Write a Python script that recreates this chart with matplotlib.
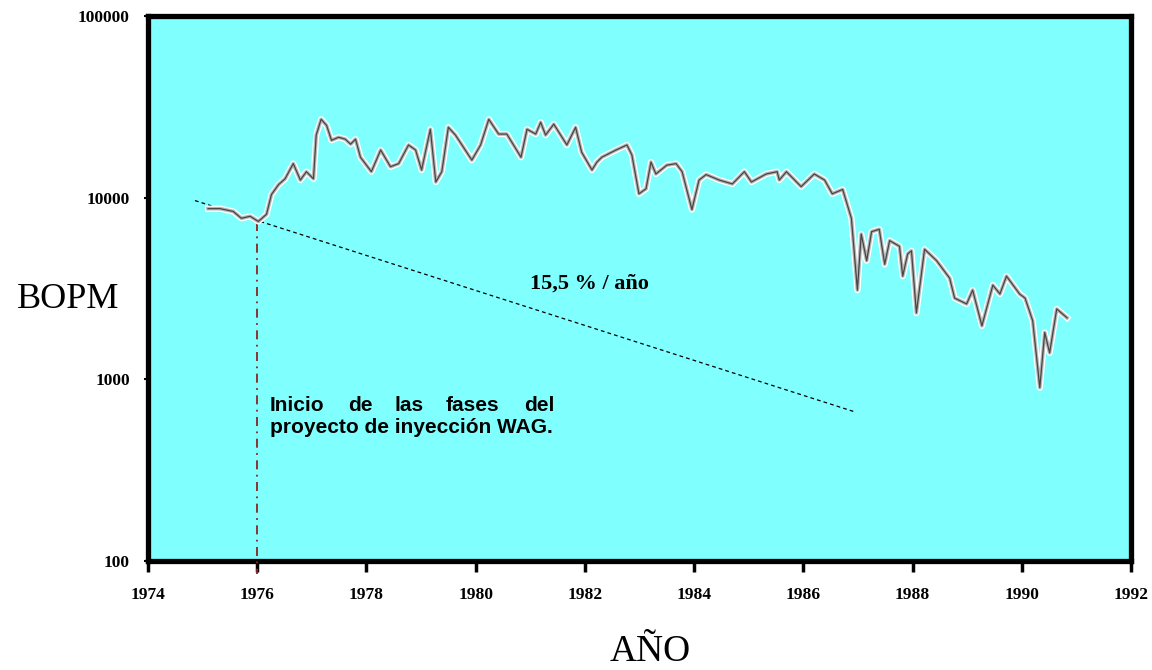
import matplotlib
matplotlib.use("Agg")
import matplotlib.pyplot as plt
from matplotlib.ticker import FixedLocator, NullLocator, FixedFormatter

# ---- data ----
years = [1975.10, 1975.32, 1975.56, 1975.71, 1975.87, 1976.02, 1976.17, 1976.26,
         1976.39, 1976.51, 1976.66, 1976.79, 1976.90, 1977.03, 1977.08, 1977.17,
         1977.27, 1977.36, 1977.49, 1977.61, 1977.71, 1977.80, 1977.89, 1978.09,
         1978.26, 1978.44, 1978.59, 1978.77, 1978.90, 1979.01, 1979.17, 1979.27,
         1979.38, 1979.50, 1979.63, 1979.93, 1980.09, 1980.24, 1980.42, 1980.57,
         1980.83, 1980.94, 1981.10, 1981.19, 1981.28, 1981.43, 1981.67, 1981.83,
         1981.94, 1982.13, 1982.22, 1982.31, 1982.57, 1982.77, 1982.86, 1982.99,
         1983.12, 1983.21, 1983.30, 1983.50, 1983.67, 1983.78, 1983.96, 1984.09,
         1984.22, 1984.46, 1984.70, 1984.92, 1985.05, 1985.32, 1985.52, 1985.56,
         1985.69, 1985.96, 1986.20, 1986.39, 1986.53, 1986.72, 1986.88, 1986.99,
         1987.06, 1987.16, 1987.25, 1987.39, 1987.49, 1987.58, 1987.76, 1987.82,
         1987.91, 1987.98, 1988.07, 1988.22, 1988.44, 1988.68, 1988.77, 1988.99,
         1989.10, 1989.27, 1989.47, 1989.60, 1989.72, 1989.96, 1990.06, 1990.20,
         1990.33, 1990.42, 1990.51, 1990.64, 1990.83]
bopm = [8700, 8700, 8400, 7700, 7900, 7400, 8100, 10400,
        11800, 12700, 15400, 12500, 13900, 12700, 22100, 27000,
        25000, 20700, 21500, 21000, 19700, 21000, 16700, 13900,
        18300, 14800, 15400, 19500, 18300, 14200, 23800, 12200,
        13900, 24400, 22100, 16100, 19500, 27000, 22400, 22400,
        16700, 23800, 22400, 26000, 22100, 25400, 19500, 24400,
        17800, 14200, 15700, 16700, 18300, 19500, 17200, 10500,
        11200, 15700, 13500, 15100, 15400, 13900, 8600, 12500,
        13400, 12500, 11900, 13900, 12200, 13500, 13900, 12500,
        13900, 11500, 13500, 12500, 10500, 11100, 7700, 3100,
        6300, 4500, 6500, 6700, 4300, 5800, 5400, 3700,
        4900, 5100, 2320, 5200, 4500, 3600, 2800, 2600,
        3100, 1970, 3300, 2950, 3700, 2950, 2800, 2100,
        900, 1810, 1400, 2440, 2180]

trend_years = [1974.86, 1986.95]
trend_values = [9640, 661]

start_year = 1976.0
start_value = 7300

xticks = [1974, 1976, 1978, 1980, 1982, 1984, 1986, 1988, 1990, 1992]
yticks = [100, 1000, 10000, 100000]
ytick_labels = ["100", "1000", "10000", "100000"]

# ---- figure ----
fig = plt.figure(figsize=(11.52, 6.70), dpi=100)
ax = fig.add_axes([148 / 1152, 1 - 561 / 670, (1131 - 148) / 1152, (561 - 16) / 670])
ax.set_facecolor("#80FFFF")
ax.set_yscale("log")
ax.set_xlim(1974, 1992)
ax.set_ylim(100, 100000)

for s in ax.spines.values():
    s.set_linewidth(3.8)
    s.set_color("black")

ax.xaxis.set_major_locator(FixedLocator(xticks))
ax.xaxis.set_minor_locator(NullLocator())
ax.yaxis.set_major_locator(FixedLocator(yticks))
ax.yaxis.set_major_formatter(FixedFormatter(ytick_labels))
ax.yaxis.set_minor_locator(NullLocator())
ax.tick_params(axis="x", direction="out", length=8, width=2.5, pad=11)
ax.tick_params(axis="y", direction="out", length=3, width=1.5, pad=10)
for lab in ax.get_xticklabels() + ax.get_yticklabels():
    lab.set_fontfamily("Liberation Serif")
    lab.set_fontweight("bold")
    lab.set_fontsize(12.5)

# trend line
ax.plot(trend_years, trend_values, color="black", lw=0.9, ls=(0, (3, 2.5)))

# vertical dash-dot marker
ax.plot([start_year, start_year], [start_value, 85], color="#8B2323", lw=1.3,
        ls=(0, (5, 3, 1, 3)), clip_on=False, zorder=3)

# production line (white halo + gray + dark core)
ax.plot(years, bopm, color="white", lw=4.5, solid_joinstyle="round", zorder=4)
ax.plot(years, bopm, color="#b4b4b4", lw=2.6, solid_joinstyle="round", zorder=5)
ax.plot(years, bopm, color="#454545", lw=0.9, solid_joinstyle="round", zorder=6)

# annotations
ax.text(1982.09, 3350, "15,5 % / año", fontfamily="Liberation Serif", fontweight="bold",
        fontsize=16, ha="center", va="center")

tf = dict(fontfamily="Liberation Sans", fontweight="bold", fontsize=15, va="baseline")
y1 = 669
y2 = 506
ax.text(1976.23, y1, "Inicio", ha="left", **tf)
ax.text(1977.88, y1, "de", ha="center", **tf)
ax.text(1978.78, y1, "las", ha="center", **tf)
ax.text(1979.95, y1, "fases", ha="center", **tf)
ax.text(1981.45, y1, "del", ha="right", **tf)
ax.text(1976.23, y2, "proyecto de inyección WAG.", ha="left", **tf)

# axis titles
fig.text(68 / 1152, 1 - 300 / 670, "BOPM", fontfamily="Liberation Serif", fontsize=26,
         ha="center", va="center")
fig.text(650 / 1152, 1 / 670, "AÑO", fontfamily="Liberation Serif", fontsize=27,
         ha="center", va="bottom")

fig.savefig("out.png", dpi=100, facecolor="white")
